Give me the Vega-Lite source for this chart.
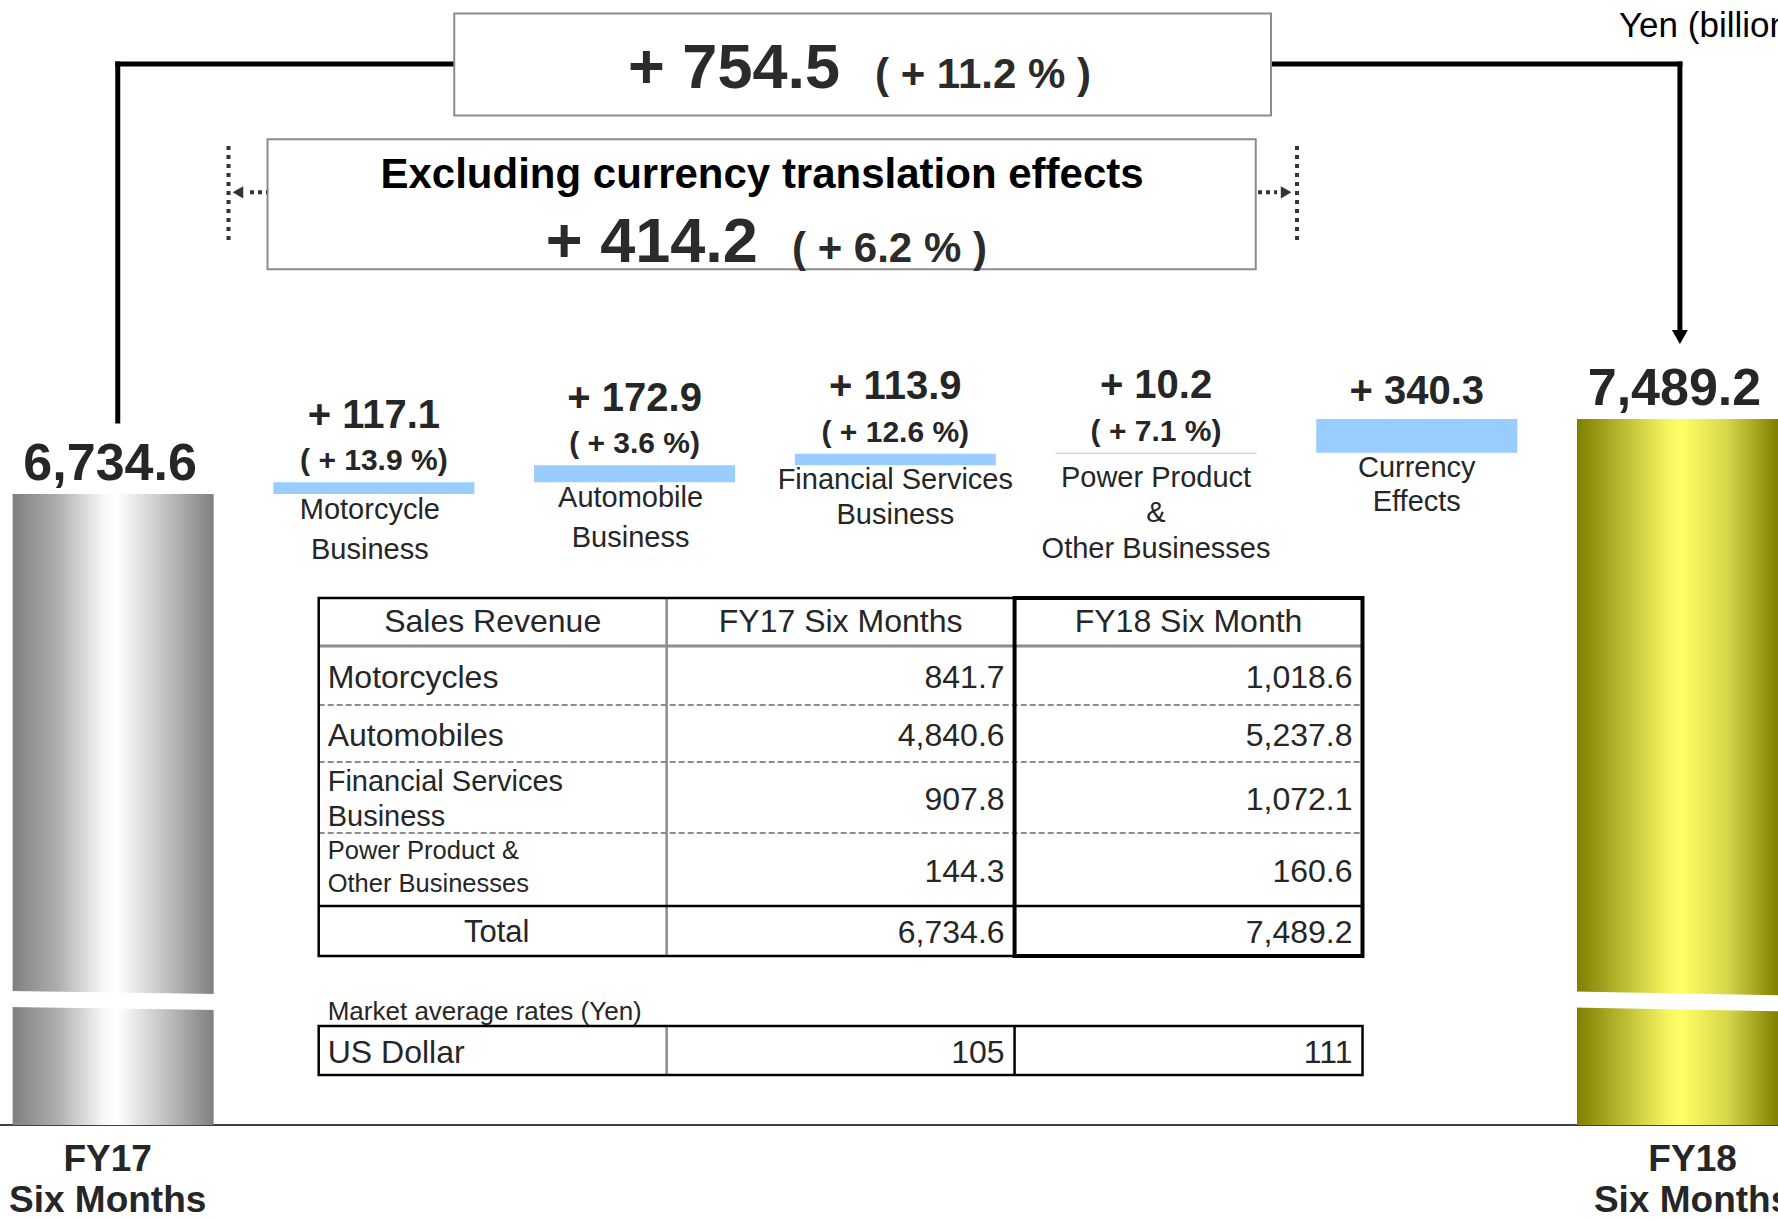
{
  "$schema": "https://vega.github.io/schema/vega-lite/v6.json",
  "width": 1778,
  "height": 1219,
  "autosize": {"type": "none"},
  "padding": 0,
  "background": "#ffffff",
  "config": {
    "view": {"stroke": null},
    "font": "Liberation Sans",
    "text": {"font": "Liberation Sans", "color": "#262626"}
  },
  "datasets": {
    "steps": [
      {"cat": "Motorcycle", "start": 6734.6, "end": 6851.7, "change": "+ 117.1", "rate": "( + 13.9 %)", "label": "Motorcycle\nBusiness"},
      {"cat": "Automobile", "start": 6851.7, "end": 7024.6, "change": "+ 172.9", "rate": "( + 3.6 %)", "label": "Automobile\nBusiness"},
      {"cat": "Financial", "start": 7024.6, "end": 7138.5, "change": "+ 113.9", "rate": "( + 12.6 %)", "label": "Financial Services\nBusiness"},
      {"cat": "Power", "start": 7138.5, "end": 7148.7, "change": "+ 10.2", "rate": "( + 7.1 %)", "label": "Power Product\n&\nOther Businesses"},
      {"cat": "Currency", "start": 7148.7, "end": 7489.2, "change": "+ 340.3", "rate": null, "label": "Currency\nEffects"}
    ],
    "totals": [
      {"cat": "FY17", "value": 6734.6, "period": "FY17\nSix Months"},
      {"cat": "FY18", "value": 7489.2, "period": "FY18\nSix Months"}
    ],
    "summary": [
      {"scope": "All", "change": "+ 754.5", "rate": "( + 11.2 % )"},
      {"scope": "Excluding currency translation effects", "change": "+ 414.2", "rate": "( + 6.2 % )"}
    ],
    "columns": [
      {"col": "Sales Revenue"},
      {"col": "FY17 Six Months"},
      {"col": "FY18 Six Month"}
    ],
    "sales": [
      {"row": 1, "segment": "Motorcycles", "FY17 Six Months": 841.7, "FY18 Six Month": 1018.6},
      {"row": 2, "segment": "Automobiles", "FY17 Six Months": 4840.6, "FY18 Six Month": 5237.8},
      {"row": 3, "segment": "Financial Services\nBusiness", "FY17 Six Months": 907.8, "FY18 Six Month": 1072.1},
      {"row": 4, "segment": "Power Product &\nOther Businesses", "FY17 Six Months": 144.3, "FY18 Six Month": 160.6},
      {"row": 5, "segment": "Total", "FY17 Six Months": 6734.6, "FY18 Six Month": 7489.2}
    ],
    "rates": [
      {"row": 7, "segment": "US Dollar", "FY17 Six Months": 105, "FY18 Six Month": 111}
    ]
  },
  "layer": [
    {
      "layer": [
        {"data": {"values": [{}]}, "mark": {"type": "rule", "color": "#000000", "strokeWidth": 1.5},
         "encoding": {"y": {"datum": 386, "type": "quantitative", "scale": {"domain": [-559.8, 11704.9], "nice": false, "zero": false}, "axis": null}}},
        {"data": {"values": [{}]}, "mark": {"type": "rule", "color": "#000000", "strokeWidth": 5, "strokeCap": "square"},
         "encoding": {
           "x": {"datum": "FY17", "type": "nominal", "bandPosition": 0.523, "scale": {"type": "band", "domain": ["FY17","Motorcycle","Automobile","Financial","Power","Currency","FY18"], "paddingInner": 0.229, "paddingOuter": 0.0242, "align": 1}, "axis": null},
           "y": {"datum": 7470, "type": "quantitative", "scale": {"domain": [-559.8, 11704.9], "nice": false, "zero": false}, "axis": null},
           "y2": {"datum": 11061}}},
        {"data": {"values": [{}]}, "mark": {"type": "rule", "color": "#000000", "strokeWidth": 5, "strokeCap": "square"},
         "encoding": {
           "x": {"datum": "FY17", "type": "nominal", "bandPosition": 0.523, "scale": {"type": "band", "domain": ["FY17","Motorcycle","Automobile","Financial","Power","Currency","FY18"], "paddingInner": 0.229, "paddingOuter": 0.0242, "align": 1}, "axis": null},
           "x2": {"datum": "FY18", "bandPosition": 0.512},
           "y": {"datum": 11061, "type": "quantitative", "scale": {"domain": [-559.8, 11704.9], "nice": false, "zero": false}, "axis": null}}},
        {"data": {"values": [{}]}, "mark": {"type": "rule", "color": "#000000", "strokeWidth": 5, "strokeCap": "square"},
         "encoding": {
           "x": {"datum": "FY18", "type": "nominal", "bandPosition": 0.512, "scale": {"type": "band", "domain": ["FY17","Motorcycle","Automobile","Financial","Power","Currency","FY18"], "paddingInner": 0.229, "paddingOuter": 0.0242, "align": 1}, "axis": null},
           "y": {"datum": 11061, "type": "quantitative", "scale": {"domain": [-559.8, 11704.9], "nice": false, "zero": false}, "axis": null},
           "y2": {"datum": 8345}}},
        {"data": {"values": [{}]}, "mark": {"type": "point", "shape": "triangle-down", "filled": true, "size": 256, "color": "#000000", "opacity": 1},
         "encoding": {
           "x": {"datum": "FY18", "type": "nominal", "bandPosition": 0.512, "scale": {"type": "band", "domain": ["FY17","Motorcycle","Automobile","Financial","Power","Currency","FY18"], "paddingInner": 0.229, "paddingOuter": 0.0242, "align": 1}, "axis": null},
           "y": {"datum": 8314, "type": "quantitative", "scale": {"domain": [-559.8, 11704.9], "nice": false, "zero": false}, "axis": null}}},
        {"data": {"values": [{}]}, "mark": {"type": "rect", "fill": "#ffffff", "stroke": "#8c8c8c", "strokeWidth": 2},
         "encoding": {
           "x": {"datum": "Motorcycle", "type": "nominal", "bandPosition": 0.9, "scale": {"type": "band", "domain": ["FY17","Motorcycle","Automobile","Financial","Power","Currency","FY18"], "paddingInner": 0.229, "paddingOuter": 0.0242, "align": 1}, "axis": null},
           "x2": {"datum": "Power", "bandPosition": 1.072},
           "y": {"datum": 10542.8, "type": "quantitative", "scale": {"domain": [-559.8, 11704.9], "nice": false, "zero": false}, "axis": null},
           "y2": {"datum": 11569.1}}},
        {"data": {"values": [{}]}, "mark": {"type": "rect", "fill": "#ffffff", "stroke": "#8c8c8c", "strokeWidth": 2},
         "encoding": {
           "x": {"datum": "Motorcycle", "type": "nominal", "bandPosition": -0.029, "scale": {"type": "band", "domain": ["FY17","Motorcycle","Automobile","Financial","Power","Currency","FY18"], "paddingInner": 0.229, "paddingOuter": 0.0242, "align": 1}, "axis": null},
           "x2": {"datum": "Power", "bandPosition": 0.996},
           "y": {"datum": 8995.4, "type": "quantitative", "scale": {"domain": [-559.8, 11704.9], "nice": false, "zero": false}, "axis": null},
           "y2": {"datum": 10303.3}}},
        {"data": {"values": [{}]}, "mark": {"type": "rule", "color": "#333333", "strokeWidth": 4, "strokeDash": [4, 5]},
         "encoding": {
           "x": {"datum": "Motorcycle", "type": "nominal", "bandPosition": -0.223, "scale": {"type": "band", "domain": ["FY17","Motorcycle","Automobile","Financial","Power","Currency","FY18"], "paddingInner": 0.229, "paddingOuter": 0.0242, "align": 1}, "axis": null},
           "y": {"datum": 9290.2, "type": "quantitative", "scale": {"domain": [-559.8, 11704.9], "nice": false, "zero": false}, "axis": null},
           "y2": {"datum": 10276.2}}},
        {"data": {"values": [{}]}, "mark": {"type": "rule", "color": "#333333", "strokeWidth": 4, "strokeDash": [4, 5]},
         "encoding": {
           "x": {"datum": "Power", "type": "nominal", "bandPosition": 1.2014, "scale": {"type": "band", "domain": ["FY17","Motorcycle","Automobile","Financial","Power","Currency","FY18"], "paddingInner": 0.229, "paddingOuter": 0.0242, "align": 1}, "axis": null},
           "y": {"datum": 9290.2, "type": "quantitative", "scale": {"domain": [-559.8, 11704.9], "nice": false, "zero": false}, "axis": null},
           "y2": {"datum": 10276.2}}},
        {"data": {"values": [{}]}, "mark": {"type": "rule", "color": "#333333", "strokeWidth": 4, "strokeDash": [4, 4]},
         "encoding": {
           "x": {"datum": "Motorcycle", "type": "nominal", "bandPosition": -0.116, "scale": {"type": "band", "domain": ["FY17","Motorcycle","Automobile","Financial","Power","Currency","FY18"], "paddingInner": 0.229, "paddingOuter": 0.0242, "align": 1}, "axis": null},
           "x2": {"datum": "Motorcycle", "bandPosition": -0.031},
           "y": {"datum": 9770.1, "type": "quantitative", "scale": {"domain": [-559.8, 11704.9], "nice": false, "zero": false}, "axis": null}}},
        {"data": {"values": [{}]}, "mark": {"type": "point", "shape": "triangle-left", "filled": true, "size": 150, "color": "#333333", "opacity": 1},
         "encoding": {
           "x": {"datum": "Motorcycle", "type": "nominal", "bandPosition": -0.176, "scale": {"type": "band", "domain": ["FY17","Motorcycle","Automobile","Financial","Power","Currency","FY18"], "paddingInner": 0.229, "paddingOuter": 0.0242, "align": 1}, "axis": null},
           "y": {"datum": 9770.1, "type": "quantitative", "scale": {"domain": [-559.8, 11704.9], "nice": false, "zero": false}, "axis": null}}},
        {"data": {"values": [{}]}, "mark": {"type": "rule", "color": "#333333", "strokeWidth": 4, "strokeDash": [4, 4]},
         "encoding": {
           "x": {"datum": "Power", "type": "nominal", "bandPosition": 1.0075, "scale": {"type": "band", "domain": ["FY17","Motorcycle","Automobile","Financial","Power","Currency","FY18"], "paddingInner": 0.229, "paddingOuter": 0.0242, "align": 1}, "axis": null},
           "x2": {"datum": "Power", "bandPosition": 1.102},
           "y": {"datum": 9770.1, "type": "quantitative", "scale": {"domain": [-559.8, 11704.9], "nice": false, "zero": false}, "axis": null}}},
        {"data": {"values": [{}]}, "mark": {"type": "point", "shape": "triangle-right", "filled": true, "size": 150, "color": "#333333", "opacity": 1},
         "encoding": {
           "x": {"datum": "Power", "type": "nominal", "bandPosition": 1.147, "scale": {"type": "band", "domain": ["FY17","Motorcycle","Automobile","Financial","Power","Currency","FY18"], "paddingInner": 0.229, "paddingOuter": 0.0242, "align": 1}, "axis": null},
           "y": {"datum": 9770.1, "type": "quantitative", "scale": {"domain": [-559.8, 11704.9], "nice": false, "zero": false}, "axis": null}}},
        {"data": {"name": "totals"}, "transform": [{"filter": "datum.cat === 'FY17'"}],
         "mark": {"type": "bar", "color": {"gradient": "linear", "x1": 0, "y1": 0, "x2": 1, "y2": 0, "stops": [{"offset": 0, "color": "#7f7f7f"}, {"offset": 0.22, "color": "#adadad"}, {"offset": 0.45, "color": "#f7f7f7"}, {"offset": 0.52, "color": "#ffffff"}, {"offset": 0.75, "color": "#c4c4c4"}, {"offset": 1, "color": "#7f7f7f"}]}},
         "encoding": {
           "x": {"field": "cat", "type": "nominal", "scale": {"type": "band", "domain": ["FY17","Motorcycle","Automobile","Financial","Power","Currency","FY18"], "paddingInner": 0.229, "paddingOuter": 0.0242, "align": 1}, "axis": null},
           "y": {"field": "value", "type": "quantitative", "scale": {"domain": [-559.8, 11704.9], "nice": false, "zero": false}, "axis": null},
           "y2": {"datum": 386}}},
        {"data": {"name": "totals"}, "transform": [{"filter": "datum.cat === 'FY18'"}],
         "mark": {"type": "bar", "color": {"gradient": "linear", "x1": 0, "y1": 0, "x2": 1, "y2": 0, "stops": [{"offset": 0, "color": "#7f7f00"}, {"offset": 0.22, "color": "#b8b830"}, {"offset": 0.45, "color": "#f5f560"}, {"offset": 0.52, "color": "#ffff66"}, {"offset": 0.75, "color": "#d6d64a"}, {"offset": 1, "color": "#7f7f00"}]}},
         "encoding": {
           "x": {"field": "cat", "type": "nominal", "scale": {"type": "band", "domain": ["FY17","Motorcycle","Automobile","Financial","Power","Currency","FY18"], "paddingInner": 0.229, "paddingOuter": 0.0242, "align": 1}, "axis": null},
           "y": {"field": "value", "type": "quantitative", "scale": {"domain": [-559.8, 11704.9], "nice": false, "zero": false}, "axis": null},
           "y2": {"datum": 386}}},
        {"data": {"values": [{}]}, "mark": {"type": "rule", "color": "#ffffff", "strokeWidth": 16, "strokeCap": "butt"},
         "encoding": {
           "x": {"datum": "FY17", "type": "nominal", "bandPosition": -0.02, "scale": {"type": "band", "domain": ["FY17","Motorcycle","Automobile","Financial","Power","Currency","FY18"], "paddingInner": 0.229, "paddingOuter": 0.0242, "align": 1}, "axis": null},
           "x2": {"datum": "FY17", "bandPosition": 1.02},
           "y": {"datum": 1653.7, "type": "quantitative", "scale": {"domain": [-559.8, 11704.9], "nice": false, "zero": false}, "axis": null},
           "y2": {"datum": 1623.4}}},
        {"data": {"values": [{}]}, "mark": {"type": "rule", "color": "#ffffff", "strokeWidth": 16, "strokeCap": "butt"},
         "encoding": {
           "x": {"datum": "FY18", "type": "nominal", "bandPosition": -0.02, "scale": {"type": "band", "domain": ["FY17","Motorcycle","Automobile","Financial","Power","Currency","FY18"], "paddingInner": 0.229, "paddingOuter": 0.0242, "align": 1}, "axis": null},
           "x2": {"datum": "FY18", "bandPosition": 1.05},
           "y": {"datum": 1648.6, "type": "quantitative", "scale": {"domain": [-559.8, 11704.9], "nice": false, "zero": false}, "axis": null},
           "y2": {"datum": 1608.3}}},
        {"data": {"name": "steps"}, "mark": {"type": "bar", "color": "#99ccff"},
         "encoding": {
           "x": {"field": "cat", "type": "nominal", "scale": {"type": "band", "domain": ["FY17","Motorcycle","Automobile","Financial","Power","Currency","FY18"], "paddingInner": 0.229, "paddingOuter": 0.0242, "align": 1}, "axis": null},
           "y": {"field": "end", "type": "quantitative", "scale": {"domain": [-559.8, 11704.9], "nice": false, "zero": false}, "axis": null},
           "y2": {"field": "start"}}},
        {"data": {"name": "summary"}, "transform": [{"filter": "datum.scope === 'All'"}],
         "mark": {"type": "text", "align": "right", "baseline": "alphabetic", "fontSize": 63, "fontWeight": "bold", "color": "#2b2b2b"},
         "encoding": {
           "x": {"datum": "Financial", "type": "nominal", "bandPosition": 0.225, "scale": {"type": "band", "domain": ["FY17","Motorcycle","Automobile","Financial","Power","Currency","FY18"], "paddingInner": 0.229, "paddingOuter": 0.0242, "align": 1}, "axis": null},
           "y": {"datum": 10814.5, "type": "quantitative", "scale": {"domain": [-559.8, 11704.9], "nice": false, "zero": false}, "axis": null},
           "text": {"field": "change", "type": "nominal"}}},
        {"data": {"name": "summary"}, "transform": [{"filter": "datum.scope === 'All'"}],
         "mark": {"type": "text", "align": "left", "baseline": "alphabetic", "fontSize": 42, "fontWeight": "bold", "color": "#2b2b2b"},
         "encoding": {
           "x": {"datum": "Financial", "type": "nominal", "bandPosition": 0.399, "scale": {"type": "band", "domain": ["FY17","Motorcycle","Automobile","Financial","Power","Currency","FY18"], "paddingInner": 0.229, "paddingOuter": 0.0242, "align": 1}, "axis": null},
           "y": {"datum": 10814.5, "type": "quantitative", "scale": {"domain": [-559.8, 11704.9], "nice": false, "zero": false}, "axis": null},
           "text": {"field": "rate", "type": "nominal"}}},
        {"data": {"name": "summary"}, "transform": [{"filter": "datum.scope !== 'All'"}],
         "mark": {"type": "text", "align": "center", "baseline": "alphabetic", "fontSize": 42, "fontWeight": "bold", "color": "#000000"},
         "encoding": {
           "x": {"datum": "Automobile", "type": "nominal", "bandPosition": 1.134, "scale": {"type": "band", "domain": ["FY17","Motorcycle","Automobile","Financial","Power","Currency","FY18"], "paddingInner": 0.229, "paddingOuter": 0.0242, "align": 1}, "axis": null},
           "y": {"datum": 9813.4, "type": "quantitative", "scale": {"domain": [-559.8, 11704.9], "nice": false, "zero": false}, "axis": null},
           "text": {"field": "scope", "type": "nominal"}}},
        {"data": {"name": "summary"}, "transform": [{"filter": "datum.scope !== 'All'"}],
         "mark": {"type": "text", "align": "right", "baseline": "alphabetic", "fontSize": 63, "fontWeight": "bold", "color": "#2b2b2b"},
         "encoding": {
           "x": {"datum": "Automobile", "type": "nominal", "bandPosition": 1.113, "scale": {"type": "band", "domain": ["FY17","Motorcycle","Automobile","Financial","Power","Currency","FY18"], "paddingInner": 0.229, "paddingOuter": 0.0242, "align": 1}, "axis": null},
           "y": {"datum": 9071.8, "type": "quantitative", "scale": {"domain": [-559.8, 11704.9], "nice": false, "zero": false}, "axis": null},
           "text": {"field": "change", "type": "nominal"}}},
        {"data": {"name": "summary"}, "transform": [{"filter": "datum.scope !== 'All'"}],
         "mark": {"type": "text", "align": "left", "baseline": "alphabetic", "fontSize": 42, "fontWeight": "bold", "color": "#2b2b2b"},
         "encoding": {
           "x": {"datum": "Financial", "type": "nominal", "bandPosition": -0.014, "scale": {"type": "band", "domain": ["FY17","Motorcycle","Automobile","Financial","Power","Currency","FY18"], "paddingInner": 0.229, "paddingOuter": 0.0242, "align": 1}, "axis": null},
           "y": {"datum": 9071.8, "type": "quantitative", "scale": {"domain": [-559.8, 11704.9], "nice": false, "zero": false}, "axis": null},
           "text": {"field": "rate", "type": "nominal"}}},
        {"data": {"values": [{}]},
         "mark": {"type": "text", "align": "left", "baseline": "alphabetic", "fontSize": 35, "text": "Yen (billions)", "color": "#000000"},
         "encoding": {
           "x": {"datum": "FY18", "type": "nominal", "bandPosition": 0.209, "scale": {"type": "band", "domain": ["FY17","Motorcycle","Automobile","Financial","Power","Currency","FY18"], "paddingInner": 0.229, "paddingOuter": 0.0242, "align": 1}, "axis": null},
           "y": {"datum": 11335.6, "type": "quantitative", "scale": {"domain": [-559.8, 11704.9], "nice": false, "zero": false}, "axis": null}}},
        {"data": {"name": "totals"},
         "mark": {"type": "text", "align": "center", "baseline": "alphabetic", "fontSize": 52, "fontWeight": "bold", "dy": -14},
         "encoding": {
           "x": {"field": "cat", "type": "nominal", "bandPosition": 0.485, "scale": {"type": "band", "domain": ["FY17","Motorcycle","Automobile","Financial","Power","Currency","FY18"], "paddingInner": 0.229, "paddingOuter": 0.0242, "align": 1}, "axis": null},
           "y": {"field": "value", "type": "quantitative", "scale": {"domain": [-559.8, 11704.9], "nice": false, "zero": false}, "axis": null},
           "text": {"field": "value", "type": "quantitative", "format": ",.1f"}}},
        {"data": {"name": "totals"}, "transform": [{"filter": "datum.cat === 'FY17'"}],
         "mark": {"type": "text", "align": "center", "baseline": "alphabetic", "fontSize": 37, "fontWeight": "bold", "dy": 46, "lineHeight": 41, "lineBreak": "\n"},
         "encoding": {
           "x": {"field": "cat", "type": "nominal", "bandPosition": 0.473, "scale": {"type": "band", "domain": ["FY17","Motorcycle","Automobile","Financial","Power","Currency","FY18"], "paddingInner": 0.229, "paddingOuter": 0.0242, "align": 1}, "axis": null},
           "y": {"datum": 386, "type": "quantitative", "scale": {"domain": [-559.8, 11704.9], "nice": false, "zero": false}, "axis": null},
           "text": {"field": "period", "type": "nominal"}}},
        {"data": {"name": "totals"}, "transform": [{"filter": "datum.cat === 'FY18'"}],
         "mark": {"type": "text", "align": "center", "baseline": "alphabetic", "fontSize": 37, "fontWeight": "bold", "dy": 46, "lineHeight": 41, "lineBreak": "\n"},
         "encoding": {
           "x": {"field": "cat", "type": "nominal", "bandPosition": 0.575, "scale": {"type": "band", "domain": ["FY17","Motorcycle","Automobile","Financial","Power","Currency","FY18"], "paddingInner": 0.229, "paddingOuter": 0.0242, "align": 1}, "axis": null},
           "y": {"datum": 386, "type": "quantitative", "scale": {"domain": [-559.8, 11704.9], "nice": false, "zero": false}, "axis": null},
           "text": {"field": "period", "type": "nominal"}}},
        {"data": {"name": "steps"}, "transform": [{"filter": "datum.rate != null"}],
         "mark": {"type": "text", "align": "center", "baseline": "alphabetic", "fontSize": 40, "fontWeight": "bold", "dy": -54.5},
         "encoding": {
           "x": {"field": "cat", "type": "nominal", "scale": {"type": "band", "domain": ["FY17","Motorcycle","Automobile","Financial","Power","Currency","FY18"], "paddingInner": 0.229, "paddingOuter": 0.0242, "align": 1}, "axis": null},
           "y": {"field": "end", "type": "quantitative", "scale": {"domain": [-559.8, 11704.9], "nice": false, "zero": false}, "axis": null},
           "text": {"field": "change", "type": "nominal"}}},
        {"data": {"name": "steps"}, "transform": [{"filter": "datum.rate == null"}],
         "mark": {"type": "text", "align": "center", "baseline": "alphabetic", "fontSize": 40, "fontWeight": "bold", "dy": -14.6},
         "encoding": {
           "x": {"field": "cat", "type": "nominal", "scale": {"type": "band", "domain": ["FY17","Motorcycle","Automobile","Financial","Power","Currency","FY18"], "paddingInner": 0.229, "paddingOuter": 0.0242, "align": 1}, "axis": null},
           "y": {"field": "end", "type": "quantitative", "scale": {"domain": [-559.8, 11704.9], "nice": false, "zero": false}, "axis": null},
           "text": {"field": "change", "type": "nominal"}}},
        {"data": {"name": "steps"}, "transform": [{"filter": "datum.rate != null"}],
         "mark": {"type": "text", "align": "center", "baseline": "alphabetic", "fontSize": 30, "fontWeight": "bold", "dy": -12},
         "encoding": {
           "x": {"field": "cat", "type": "nominal", "scale": {"type": "band", "domain": ["FY17","Motorcycle","Automobile","Financial","Power","Currency","FY18"], "paddingInner": 0.229, "paddingOuter": 0.0242, "align": 1}, "axis": null},
           "y": {"field": "end", "type": "quantitative", "scale": {"domain": [-559.8, 11704.9], "nice": false, "zero": false}, "axis": null},
           "text": {"field": "rate", "type": "nominal"}}},
        {"data": {"name": "steps"}, "transform": [{"filter": {"field": "cat", "oneOf": ["Motorcycle", "Automobile"]}}],
         "mark": {"type": "text", "align": "center", "baseline": "alphabetic", "fontSize": 29, "dx": -4, "dy": 24.5, "lineHeight": 40, "lineBreak": "\n"},
         "encoding": {
           "x": {"field": "cat", "type": "nominal", "scale": {"type": "band", "domain": ["FY17","Motorcycle","Automobile","Financial","Power","Currency","FY18"], "paddingInner": 0.229, "paddingOuter": 0.0242, "align": 1}, "axis": null},
           "y": {"field": "start", "type": "quantitative", "scale": {"domain": [-559.8, 11704.9], "nice": false, "zero": false}, "axis": null},
           "text": {"field": "label", "type": "nominal"}}},
        {"data": {"name": "steps"}, "transform": [{"filter": {"field": "cat", "oneOf": ["Financial", "Currency"]}}],
         "mark": {"type": "text", "align": "center", "baseline": "alphabetic", "fontSize": 29, "dy": 24, "lineHeight": 34.5, "lineBreak": "\n"},
         "encoding": {
           "x": {"field": "cat", "type": "nominal", "scale": {"type": "band", "domain": ["FY17","Motorcycle","Automobile","Financial","Power","Currency","FY18"], "paddingInner": 0.229, "paddingOuter": 0.0242, "align": 1}, "axis": null},
           "y": {"field": "start", "type": "quantitative", "scale": {"domain": [-559.8, 11704.9], "nice": false, "zero": false}, "axis": null},
           "text": {"field": "label", "type": "nominal"}}},
        {"data": {"name": "steps"}, "transform": [{"filter": {"field": "cat", "oneOf": ["Power"]}}],
         "mark": {"type": "text", "align": "center", "baseline": "alphabetic", "fontSize": 29, "dy": 33, "lineHeight": 35.5, "lineBreak": "\n"},
         "encoding": {
           "x": {"field": "cat", "type": "nominal", "scale": {"type": "band", "domain": ["FY17","Motorcycle","Automobile","Financial","Power","Currency","FY18"], "paddingInner": 0.229, "paddingOuter": 0.0242, "align": 1}, "axis": null},
           "y": {"field": "start", "type": "quantitative", "scale": {"domain": [-559.8, 11704.9], "nice": false, "zero": false}, "axis": null},
           "text": {"field": "label", "type": "nominal"}}}
      ]
    },
    {
      "layer": [
        {"data": {"values": [{}]}, "mark": {"type": "rule", "color": "#8c8c8c", "strokeWidth": 3},
         "encoding": {
           "x": {"datum": "Sales Revenue", "type": "nominal", "bandPosition": 0, "scale": {"type": "band", "domain": ["Sales Revenue", "FY17 Six Months", "FY18 Six Month"], "range": [318.7, 1362.5], "paddingInner": 0, "paddingOuter": 0}, "axis": null},
           "x2": {"datum": "FY18 Six Month", "bandPosition": 1},
           "y": {"datum": 0.5, "type": "quantitative", "scale": {"domain": [-0.5, 0.5, 1.5, 2.5, 3.5, 4.5, 5.5, 6.5, 7.5], "range": [598, 646, 705, 762, 833, 906, 956, 1026, 1075], "nice": false, "zero": false}, "axis": null}}},
        {"data": {"values": [{}]}, "mark": {"type": "rule", "color": "#8c8c8c", "strokeWidth": 2, "strokeDash": [6, 3]},
         "encoding": {
           "x": {"datum": "Sales Revenue", "type": "nominal", "bandPosition": 0, "scale": {"type": "band", "domain": ["Sales Revenue", "FY17 Six Months", "FY18 Six Month"], "range": [318.7, 1362.5], "paddingInner": 0, "paddingOuter": 0}, "axis": null},
           "x2": {"datum": "FY18 Six Month", "bandPosition": 1},
           "y": {"datum": 1.5, "type": "quantitative", "scale": {"domain": [-0.5, 0.5, 1.5, 2.5, 3.5, 4.5, 5.5, 6.5, 7.5], "range": [598, 646, 705, 762, 833, 906, 956, 1026, 1075], "nice": false, "zero": false}, "axis": null}}},
        {"data": {"values": [{}]}, "mark": {"type": "rule", "color": "#8c8c8c", "strokeWidth": 2, "strokeDash": [6, 3]},
         "encoding": {
           "x": {"datum": "Sales Revenue", "type": "nominal", "bandPosition": 0, "scale": {"type": "band", "domain": ["Sales Revenue", "FY17 Six Months", "FY18 Six Month"], "range": [318.7, 1362.5], "paddingInner": 0, "paddingOuter": 0}, "axis": null},
           "x2": {"datum": "FY18 Six Month", "bandPosition": 1},
           "y": {"datum": 2.5, "type": "quantitative", "scale": {"domain": [-0.5, 0.5, 1.5, 2.5, 3.5, 4.5, 5.5, 6.5, 7.5], "range": [598, 646, 705, 762, 833, 906, 956, 1026, 1075], "nice": false, "zero": false}, "axis": null}}},
        {"data": {"values": [{}]}, "mark": {"type": "rule", "color": "#8c8c8c", "strokeWidth": 2, "strokeDash": [6, 3]},
         "encoding": {
           "x": {"datum": "Sales Revenue", "type": "nominal", "bandPosition": 0, "scale": {"type": "band", "domain": ["Sales Revenue", "FY17 Six Months", "FY18 Six Month"], "range": [318.7, 1362.5], "paddingInner": 0, "paddingOuter": 0}, "axis": null},
           "x2": {"datum": "FY18 Six Month", "bandPosition": 1},
           "y": {"datum": 3.5, "type": "quantitative", "scale": {"domain": [-0.5, 0.5, 1.5, 2.5, 3.5, 4.5, 5.5, 6.5, 7.5], "range": [598, 646, 705, 762, 833, 906, 956, 1026, 1075], "nice": false, "zero": false}, "axis": null}}},
        {"data": {"values": [{}]}, "mark": {"type": "rule", "color": "#8c8c8c", "strokeWidth": 2.5},
         "encoding": {
           "x": {"datum": "FY17 Six Months", "type": "nominal", "bandPosition": 0, "scale": {"type": "band", "domain": ["Sales Revenue", "FY17 Six Months", "FY18 Six Month"], "range": [318.7, 1362.5], "paddingInner": 0, "paddingOuter": 0}, "axis": null},
           "y": {"datum": -0.5, "type": "quantitative", "scale": {"domain": [-0.5, 0.5, 1.5, 2.5, 3.5, 4.5, 5.5, 6.5, 7.5], "range": [598, 646, 705, 762, 833, 906, 956, 1026, 1075], "nice": false, "zero": false}, "axis": null},
           "y2": {"datum": 5.5}}},
        {"data": {"values": [{}]}, "mark": {"type": "rule", "color": "#8c8c8c", "strokeWidth": 2.5},
         "encoding": {
           "x": {"datum": "FY17 Six Months", "type": "nominal", "bandPosition": 0, "scale": {"type": "band", "domain": ["Sales Revenue", "FY17 Six Months", "FY18 Six Month"], "range": [318.7, 1362.5], "paddingInner": 0, "paddingOuter": 0}, "axis": null},
           "y": {"datum": 6.5, "type": "quantitative", "scale": {"domain": [-0.5, 0.5, 1.5, 2.5, 3.5, 4.5, 5.5, 6.5, 7.5], "range": [598, 646, 705, 762, 833, 906, 956, 1026, 1075], "nice": false, "zero": false}, "axis": null},
           "y2": {"datum": 7.5}}},
        {"data": {"values": [{}]}, "mark": {"type": "rule", "color": "#000000", "strokeWidth": 2.5},
         "encoding": {
           "x": {"datum": "Sales Revenue", "type": "nominal", "bandPosition": 0, "scale": {"type": "band", "domain": ["Sales Revenue", "FY17 Six Months", "FY18 Six Month"], "range": [318.7, 1362.5], "paddingInner": 0, "paddingOuter": 0}, "axis": null},
           "x2": {"datum": "FY18 Six Month", "bandPosition": 1},
           "y": {"datum": 4.5, "type": "quantitative", "scale": {"domain": [-0.5, 0.5, 1.5, 2.5, 3.5, 4.5, 5.5, 6.5, 7.5], "range": [598, 646, 705, 762, 833, 906, 956, 1026, 1075], "nice": false, "zero": false}, "axis": null}}},
        {"data": {"values": [{}]}, "mark": {"type": "rule", "color": "#000000", "strokeWidth": 2.5},
         "encoding": {
           "x": {"datum": "FY18 Six Month", "type": "nominal", "bandPosition": 0, "scale": {"type": "band", "domain": ["Sales Revenue", "FY17 Six Months", "FY18 Six Month"], "range": [318.7, 1362.5], "paddingInner": 0, "paddingOuter": 0}, "axis": null},
           "y": {"datum": 6.5, "type": "quantitative", "scale": {"domain": [-0.5, 0.5, 1.5, 2.5, 3.5, 4.5, 5.5, 6.5, 7.5], "range": [598, 646, 705, 762, 833, 906, 956, 1026, 1075], "nice": false, "zero": false}, "axis": null},
           "y2": {"datum": 7.5}}},
        {"data": {"values": [{}]}, "mark": {"type": "rect", "filled": false, "stroke": "#000000", "strokeWidth": 2.5},
         "encoding": {
           "x": {"datum": "Sales Revenue", "type": "nominal", "bandPosition": 0, "scale": {"type": "band", "domain": ["Sales Revenue", "FY17 Six Months", "FY18 Six Month"], "range": [318.7, 1362.5], "paddingInner": 0, "paddingOuter": 0}, "axis": null},
           "x2": {"datum": "FY18 Six Month", "bandPosition": 1},
           "y": {"datum": -0.5, "type": "quantitative", "scale": {"domain": [-0.5, 0.5, 1.5, 2.5, 3.5, 4.5, 5.5, 6.5, 7.5], "range": [598, 646, 705, 762, 833, 906, 956, 1026, 1075], "nice": false, "zero": false}, "axis": null},
           "y2": {"datum": 5.5}}},
        {"data": {"values": [{}]}, "mark": {"type": "rect", "filled": false, "stroke": "#000000", "strokeWidth": 4},
         "encoding": {
           "x": {"datum": "FY18 Six Month", "type": "nominal", "bandPosition": 0, "scale": {"type": "band", "domain": ["Sales Revenue", "FY17 Six Months", "FY18 Six Month"], "range": [318.7, 1362.5], "paddingInner": 0, "paddingOuter": 0}, "axis": null},
           "x2": {"datum": "FY18 Six Month", "bandPosition": 1},
           "y": {"datum": -0.5, "type": "quantitative", "scale": {"domain": [-0.5, 0.5, 1.5, 2.5, 3.5, 4.5, 5.5, 6.5, 7.5], "range": [598, 646, 705, 762, 833, 906, 956, 1026, 1075], "nice": false, "zero": false}, "axis": null},
           "y2": {"datum": 5.5}}},
        {"data": {"values": [{}]}, "mark": {"type": "rect", "filled": false, "stroke": "#000000", "strokeWidth": 2.5},
         "encoding": {
           "x": {"datum": "Sales Revenue", "type": "nominal", "bandPosition": 0, "scale": {"type": "band", "domain": ["Sales Revenue", "FY17 Six Months", "FY18 Six Month"], "range": [318.7, 1362.5], "paddingInner": 0, "paddingOuter": 0}, "axis": null},
           "x2": {"datum": "FY18 Six Month", "bandPosition": 1},
           "y": {"datum": 6.5, "type": "quantitative", "scale": {"domain": [-0.5, 0.5, 1.5, 2.5, 3.5, 4.5, 5.5, 6.5, 7.5], "range": [598, 646, 705, 762, 833, 906, 956, 1026, 1075], "nice": false, "zero": false}, "axis": null},
           "y2": {"datum": 7.5}}},
        {"data": {"name": "columns"},
         "mark": {"type": "text", "align": "center", "baseline": "middle", "fontSize": 32, "dy": 0},
         "encoding": {
           "x": {"field": "col", "type": "nominal", "scale": {"type": "band", "domain": ["Sales Revenue", "FY17 Six Months", "FY18 Six Month"], "range": [318.7, 1362.5], "paddingInner": 0, "paddingOuter": 0}, "axis": null},
           "y": {"datum": 0, "type": "quantitative", "scale": {"domain": [-0.5, 0.5, 1.5, 2.5, 3.5, 4.5, 5.5, 6.5, 7.5], "range": [598, 646, 705, 762, 833, 906, 956, 1026, 1075], "nice": false, "zero": false}, "axis": null},
           "text": {"field": "col", "type": "nominal"}}},
        {"data": {"name": "sales"}, "transform": [{"filter": "datum.row <= 2"}],
         "mark": {"type": "text", "align": "left", "baseline": "middle", "fontSize": 32, "dx": 9, "dy": 2},
         "encoding": {
           "x": {"datum": "Sales Revenue", "type": "nominal", "bandPosition": 0, "scale": {"type": "band", "domain": ["Sales Revenue", "FY17 Six Months", "FY18 Six Month"], "range": [318.7, 1362.5], "paddingInner": 0, "paddingOuter": 0}, "axis": null},
           "y": {"field": "row", "type": "quantitative", "scale": {"domain": [-0.5, 0.5, 1.5, 2.5, 3.5, 4.5, 5.5, 6.5, 7.5], "range": [598, 646, 705, 762, 833, 906, 956, 1026, 1075], "nice": false, "zero": false}, "axis": null},
           "text": {"field": "segment", "type": "nominal"}}},
        {"data": {"name": "sales"}, "transform": [{"filter": "datum.row === 3"}],
         "mark": {"type": "text", "align": "left", "baseline": "middle", "fontSize": 29, "dx": 9, "dy": -16, "lineHeight": 35, "lineBreak": "\n"},
         "encoding": {
           "x": {"datum": "Sales Revenue", "type": "nominal", "bandPosition": 0, "scale": {"type": "band", "domain": ["Sales Revenue", "FY17 Six Months", "FY18 Six Month"], "range": [318.7, 1362.5], "paddingInner": 0, "paddingOuter": 0}, "axis": null},
           "y": {"field": "row", "type": "quantitative", "scale": {"domain": [-0.5, 0.5, 1.5, 2.5, 3.5, 4.5, 5.5, 6.5, 7.5], "range": [598, 646, 705, 762, 833, 906, 956, 1026, 1075], "nice": false, "zero": false}, "axis": null},
           "text": {"field": "segment", "type": "nominal"}}},
        {"data": {"name": "sales"}, "transform": [{"filter": "datum.row === 4"}],
         "mark": {"type": "text", "align": "left", "baseline": "middle", "fontSize": 25.5, "dx": 9, "dy": -18.6, "lineHeight": 33.3, "lineBreak": "\n"},
         "encoding": {
           "x": {"datum": "Sales Revenue", "type": "nominal", "bandPosition": 0, "scale": {"type": "band", "domain": ["Sales Revenue", "FY17 Six Months", "FY18 Six Month"], "range": [318.7, 1362.5], "paddingInner": 0, "paddingOuter": 0}, "axis": null},
           "y": {"field": "row", "type": "quantitative", "scale": {"domain": [-0.5, 0.5, 1.5, 2.5, 3.5, 4.5, 5.5, 6.5, 7.5], "range": [598, 646, 705, 762, 833, 906, 956, 1026, 1075], "nice": false, "zero": false}, "axis": null},
           "text": {"field": "segment", "type": "nominal"}}},
        {"data": {"name": "sales"}, "transform": [{"filter": "datum.row === 5"}],
         "mark": {"type": "text", "align": "center", "baseline": "middle", "fontSize": 31, "dx": 4, "dy": 2},
         "encoding": {
           "x": {"datum": "Sales Revenue", "type": "nominal", "bandPosition": 0.5, "scale": {"type": "band", "domain": ["Sales Revenue", "FY17 Six Months", "FY18 Six Month"], "range": [318.7, 1362.5], "paddingInner": 0, "paddingOuter": 0}, "axis": null},
           "y": {"field": "row", "type": "quantitative", "scale": {"domain": [-0.5, 0.5, 1.5, 2.5, 3.5, 4.5, 5.5, 6.5, 7.5], "range": [598, 646, 705, 762, 833, 906, 956, 1026, 1075], "nice": false, "zero": false}, "axis": null},
           "text": {"field": "segment", "type": "nominal"}}},
        {"data": {"name": "sales"}, "transform": [{"fold": ["FY17 Six Months", "FY18 Six Month"], "as": ["col", "amount"]}],
         "mark": {"type": "text", "align": "right", "baseline": "middle", "fontSize": 32, "dx": -10, "dy": 2},
         "encoding": {
           "x": {"field": "col", "type": "nominal", "bandPosition": 1, "scale": {"type": "band", "domain": ["Sales Revenue", "FY17 Six Months", "FY18 Six Month"], "range": [318.7, 1362.5], "paddingInner": 0, "paddingOuter": 0}, "axis": null},
           "y": {"field": "row", "type": "quantitative", "scale": {"domain": [-0.5, 0.5, 1.5, 2.5, 3.5, 4.5, 5.5, 6.5, 7.5], "range": [598, 646, 705, 762, 833, 906, 956, 1026, 1075], "nice": false, "zero": false}, "axis": null},
           "text": {"field": "amount", "type": "quantitative", "format": ",.1f"}}},
        {"data": {"values": [{}]},
         "mark": {"type": "text", "align": "left", "baseline": "alphabetic", "fontSize": 26, "dx": 9, "dy": -6, "text": "Market average rates (Yen)"},
         "encoding": {
           "x": {"datum": "Sales Revenue", "type": "nominal", "bandPosition": 0, "scale": {"type": "band", "domain": ["Sales Revenue", "FY17 Six Months", "FY18 Six Month"], "range": [318.7, 1362.5], "paddingInner": 0, "paddingOuter": 0}, "axis": null},
           "y": {"datum": 6.5, "type": "quantitative", "scale": {"domain": [-0.5, 0.5, 1.5, 2.5, 3.5, 4.5, 5.5, 6.5, 7.5], "range": [598, 646, 705, 762, 833, 906, 956, 1026, 1075], "nice": false, "zero": false}, "axis": null}}},
        {"data": {"name": "rates"},
         "mark": {"type": "text", "align": "left", "baseline": "middle", "fontSize": 32, "dx": 9, "dy": 2},
         "encoding": {
           "x": {"datum": "Sales Revenue", "type": "nominal", "bandPosition": 0, "scale": {"type": "band", "domain": ["Sales Revenue", "FY17 Six Months", "FY18 Six Month"], "range": [318.7, 1362.5], "paddingInner": 0, "paddingOuter": 0}, "axis": null},
           "y": {"field": "row", "type": "quantitative", "scale": {"domain": [-0.5, 0.5, 1.5, 2.5, 3.5, 4.5, 5.5, 6.5, 7.5], "range": [598, 646, 705, 762, 833, 906, 956, 1026, 1075], "nice": false, "zero": false}, "axis": null},
           "text": {"field": "segment", "type": "nominal"}}},
        {"data": {"name": "rates"}, "transform": [{"fold": ["FY17 Six Months", "FY18 Six Month"], "as": ["col", "amount"]}],
         "mark": {"type": "text", "align": "right", "baseline": "middle", "fontSize": 32, "dx": -10, "dy": 2},
         "encoding": {
           "x": {"field": "col", "type": "nominal", "bandPosition": 1, "scale": {"type": "band", "domain": ["Sales Revenue", "FY17 Six Months", "FY18 Six Month"], "range": [318.7, 1362.5], "paddingInner": 0, "paddingOuter": 0}, "axis": null},
           "y": {"field": "row", "type": "quantitative", "scale": {"domain": [-0.5, 0.5, 1.5, 2.5, 3.5, 4.5, 5.5, 6.5, 7.5], "range": [598, 646, 705, 762, 833, 906, 956, 1026, 1075], "nice": false, "zero": false}, "axis": null},
           "text": {"field": "amount", "type": "quantitative", "format": "d"}}}
      ]
    }
  ],
  "resolve": {"scale": {"x": "independent", "y": "independent"}}
}
